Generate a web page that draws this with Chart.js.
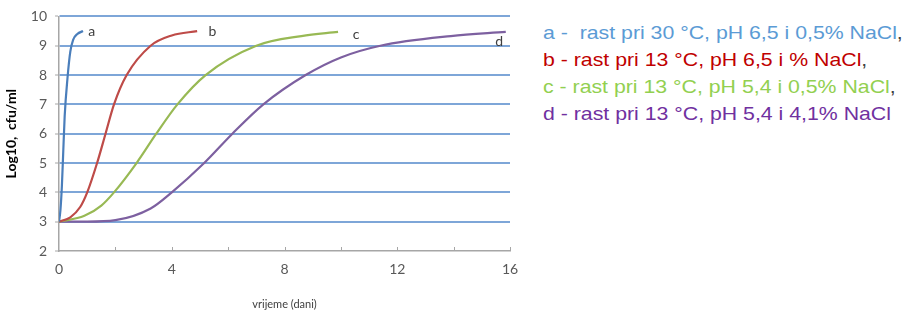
<!DOCTYPE html>
<html>
<head>
<meta charset="utf-8">
<script src="https://cdn.jsdelivr.net/npm/chart.js@4"></script>
<style>
    body { margin: 0; background: #fff; }
    #wrap { position: relative; width: 910px; height: 315px; }
    #chartBox { position: absolute; left: 0; top: 0; width: 530px; height: 315px; }
    #legend { position: absolute; left: 543px; top: 19px; font-family: "Liberation Sans", Arial, sans-serif; font-size: 19px; line-height: 27px; white-space: pre; transform: scaleX(1.12); transform-origin: left top; }
    #legend .comma { color: #404040; }
</style>
</head>
<body>
<div id="wrap">
    <div id="chartBox"><canvas id="growthChart"></canvas></div>
    <div id="legend"></div>
</div>
<script>
// values (days, log10 cfu/ml)
const timeA = [0, 0.05, 0.1, 0.15, 0.2, 0.3, 0.4, 0.5, 0.65, 0.85];
const logA  = [3, 3.4, 4.2, 5.4, 6.6, 7.9, 8.8, 9.2, 9.4, 9.5];

const timeB = [0, 0.4, 0.75, 1.0, 1.35, 1.65, 1.95, 2.4, 3.25, 4.0, 4.9];
const logB  = [3, 3.15, 3.5, 4, 5, 6, 7, 8, 9, 9.35, 9.5];

const timeC = [0, 0.9, 1.5, 1.95, 2.75, 3.45, 4.2, 5.2, 7.0, 8.6, 9.9];
const logC  = [3, 3.2, 3.55, 4, 5, 6, 7, 8, 9, 9.33, 9.47];

const timeD = [0, 1, 2, 3.25, 4, 5.15, 6.15, 7.25, 8.75, 10, 11.4, 13.9, 15.85];
const logD  = [3, 3, 3.05, 3.45, 4, 5, 6, 7, 8, 8.6, 9, 9.33, 9.47];

const curveNames = ['a', 'b', 'c', 'd'];
const curveColors = ['#4a7ebb', '#be4b48', '#98b954', '#7d60a0'];
const legendColors = ['#5b9bd5', '#c00000', '#92d050', '#7030a0'];
const legendTexts = [
    'a -  rast pri 30 °C, pH 6,5 i 0,5% NaCl',
    'b - rast pri 13 °C, pH 6,5 i % NaCl',
    'c - rast pri 13 °C, pH 5,4 i 0,5% NaCl',
    'd - rast pri 13 °C, pH 5,4 i 4,1% NaCl'
];
const legendCommas = [',', ',', ',', ''];
// where the letter sits next to each curve, in data units
const labelAt = [[1.04, 9.5], [5.3, 9.48], [10.42, 9.38], [15.48, 9.14]];

const xTicks = [0, 4, 8, 12, 16];

function toPoints(xs, ys) {
    return xs.map((x, i) => ({ x: x, y: ys[i] }));
}

const gridBlue = '#7ea6d8';
const axisGray = '#a6a6a6';
const textGray = '#595959';

// small tick marks pointing up from the x axis, plus the curve letters
const extrasPlugin = {
    id: 'extras',
    afterDatasetsDraw(chart) {
        const ctx = chart.ctx;
        const xs = chart.scales.x;
        const ys = chart.scales.y;
        const base = ys.getPixelForValue(2);
        ctx.save();
        ctx.strokeStyle = axisGray;
        ctx.lineWidth = 1;
        for (let d = 2; d <= 16; d += 2) {
            const px = Math.round(xs.getPixelForValue(d)) + 0.5;
            ctx.beginPath();
            ctx.moveTo(px, base);
            ctx.lineTo(px, base - 4);
            ctx.stroke();
        }
        ctx.fillStyle = '#404040';
        ctx.font = '14px Lato, "Open Sans", sans-serif';
        ctx.textBaseline = 'middle';
        ctx.textAlign = 'left';
        labelAt.forEach((p, i) => {
            ctx.fillText(curveNames[i], xs.getPixelForValue(p[0]), ys.getPixelForValue(p[1]));
        });
        ctx.restore();
    }
};

class GrowthChart {
    constructor() {
        this.buildLegend();
        this.buildChart();
    }

    buildLegend() {
        const html = legendTexts.map((t, i) =>
            `<div style="color:${legendColors[i]}">${t}<span class="comma">${legendCommas[i]}</span></div>`
        ).join('');
        document.getElementById('legend').innerHTML = html;
    }

    buildChart() {
        const series = [[timeA, logA], [timeB, logB], [timeC, logC], [timeD, logD]];
        const ctx = document.getElementById('growthChart').getContext('2d');
        this.chart = new Chart(ctx, {
            type: 'line',
            data: {
                datasets: series.map((s, i) => ({
                    label: curveNames[i],
                    data: toPoints(s[0], s[1]),
                    borderColor: curveColors[i],
                    borderWidth: 2.2,
                    pointRadius: 0,
                    fill: false,
                    cubicInterpolationMode: 'monotone'
                }))
            },
            options: {
                responsive: true,
                maintainAspectRatio: false,
                animation: false,
                layout: { padding: { left: 0, right: 20, top: 14, bottom: 0 } },
                plugins: { legend: { display: false }, tooltip: { enabled: false } },
                scales: {
                    x: {
                        type: 'linear',
                        min: 0,
                        max: 16,
                        afterBuildTicks: (axis) => { axis.ticks = xTicks.map(v => ({ value: v })); },
                        grid: { drawOnChartArea: false, drawTicks: false },
                        border: { color: axisGray, width: 1.5 },
                        ticks: { color: textGray, padding: 10, font: { family: 'Lato', size: 14 } },
                        title: {
                            display: true,
                            text: 'vrijeme (dani)',
                            color: '#404040',
                            font: { family: 'Lato', size: 11 },
                            padding: { top: 10, bottom: 4 }
                        }
                    },
                    y: {
                        min: 2,
                        max: 10,
                        ticks: {
                            stepSize: 0.5,
                            color: textGray,
                            padding: 8,
                            font: { family: 'Lato', size: 14 },
                            callback: (v) => Number.isInteger(v) ? String(v) : ''
                        },
                        grid: {
                            color: (c) => (Number.isInteger(c.tick.value) && c.tick.value > 2) ? gridBlue : 'rgba(0,0,0,0)',
                            lineWidth: 2,
                            tickColor: axisGray,
                            tickLength: 4,
                            tickWidth: 1
                        },
                        border: { color: axisGray, width: 1.5 },
                        title: {
                            display: true,
                            text: 'Log10,  cfu/ml',
                            color: '#000',
                            font: { family: 'Lato', size: 14, weight: 'bold' },
                            padding: { top: 3, bottom: 3 }
                        }
                    }
                }
            },
            plugins: [extrasPlugin]
        });
    }
}

document.addEventListener('DOMContentLoaded', () => {
    new GrowthChart();
});
</script>
</body>
</html>
